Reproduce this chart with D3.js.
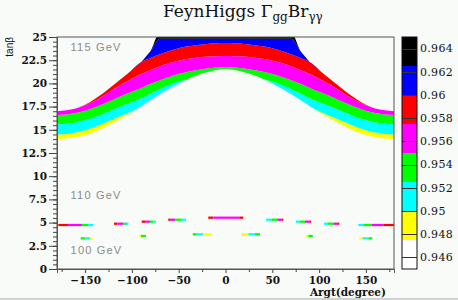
<!DOCTYPE html>
<html>
<head>
<meta charset="utf-8">
<script src="https://cdn.jsdelivr.net/npm/d3@7"></script>
<style>
	body { margin: 0; background: #f8fbf8; }
	svg { display: block; }
</style>
</head>
<body>
<script>
// Argt sample points (degrees) for the 115 GeV band
var argt = [-180, -170, -160, -150, -140, -130, -120, -110, -100, -90, -80, -70, -60, -50, -40, -30, -20, -10, 0,
	10, 20, 30, 40, 50, 60, 70, 80, 90, 100, 110, 120, 130, 140, 150, 160, 170, 180];

// upper tanb edge of each colour layer of the band
var bandBottom = [14.0, 14.05, 14.2, 14.45, 14.8, 15.25, 15.75, 16.3, 16.9, 17.55, 18.2, 18.85, 19.45, 20.0, 20.5, 20.9, 21.2, 21.45, 21.55,
	21.45, 21.2, 20.9, 20.5, 20.0, 19.45, 18.85, 18.2, 17.55, 16.9, 16.3, 15.75, 15.25, 14.8, 14.45, 14.2, 14.05, 14.0];
var yellowTop = [14.5, 14.55, 14.7, 14.95, 15.3, 15.7, 16.15, 16.55, 17.0, 17.55, 18.2, 18.85, 19.45, 20.0, 20.5, 20.9, 21.2, 21.45, 21.55,
	21.45, 21.2, 20.9, 20.5, 20.0, 19.45, 18.85, 18.2, 17.55, 17.0, 16.55, 16.15, 15.7, 15.3, 14.95, 14.7, 14.55, 14.5];
var cyanTop = [15.6, 15.65, 15.8, 16.05, 16.35, 16.75, 17.2, 17.6, 18.0, 18.4, 18.9, 19.4, 19.85, 20.2, 20.5, 20.9, 21.2, 21.45, 21.55,
	21.45, 21.2, 20.9, 20.5, 20.2, 19.85, 19.4, 18.9, 18.4, 18.0, 17.6, 17.2, 16.75, 16.35, 16.05, 15.8, 15.65, 15.6];
var greenTop = [16.6, 16.65, 16.8, 17.05, 17.4, 17.8, 18.25, 18.7, 19.1, 19.5, 19.95, 20.35, 20.7, 21.0, 21.25, 21.45, 21.6, 21.72, 21.77,
	21.72, 21.6, 21.45, 21.25, 21.0, 20.7, 20.35, 19.95, 19.5, 19.1, 18.7, 18.25, 17.8, 17.4, 17.05, 16.8, 16.65, 16.6];
var magentaTop = [17.0, 17.1, 17.3, 17.65, 18.1, 18.7, 19.35, 19.95, 20.5, 21.0, 21.45, 21.85, 22.2, 22.45, 22.65, 22.8, 22.9, 22.93, 22.95,
	22.93, 22.9, 22.8, 22.65, 22.45, 22.2, 21.85, 21.45, 21.0, 20.5, 19.95, 19.35, 18.7, 18.1, 17.65, 17.3, 17.1, 17.0];
var redTop = [17.0, 17.1, 17.3, 17.7, 18.3, 19.0, 19.8, 20.6, 21.45, 22.3, 22.75, 23.15, 23.5, 23.8, 24.0, 24.15, 24.25, 24.32, 24.35,
	24.32, 24.25, 24.15, 24.0, 23.8, 23.5, 23.15, 22.75, 22.3, 21.45, 20.6, 19.8, 19.0, 18.3, 17.7, 17.3, 17.1, 17.0];
var blueTop = [17.0, 17.1, 17.3, 17.7, 18.3, 19.0, 19.8, 20.6, 21.45, 22.3, 23.5, 24.8, 24.8, 24.8, 24.8, 24.8, 24.8, 24.8, 24.8,
	24.8, 24.8, 24.8, 24.8, 24.8, 24.8, 24.8, 23.5, 22.3, 21.45, 20.6, 19.8, 19.0, 18.3, 17.7, 17.3, 17.1, 17.0];
var blackTop = [17.0, 17.1, 17.3, 17.7, 18.3, 19.0, 19.8, 20.6, 21.45, 22.3, 23.5, 25.5, 25.5, 25.5, 25.5, 25.5, 25.5, 25.5, 25.5,
	25.5, 25.5, 25.5, 25.5, 25.5, 25.5, 25.5, 23.5, 22.3, 21.45, 20.6, 19.8, 19.0, 18.3, 17.7, 17.3, 17.1, 17.0];

// z value (Gamma_gg * Br_gamgam ratio) of each layer
var bandZ = [0.9487, 0.9512, 0.9537, 0.9562, 0.9587, 0.9612, 0.9637];

// short strips of the 110 GeV contour: tanb, Argt cell edges, z of each cell
var strips110 = [
	{ tanb: 4.74, edges: [-178.6, -168.3, -153.3, -146.9, -141.2], z: [0.9587, 0.9562, 0.9537, 0.9512] },
	{ tanb: 4.88, edges: [-119.1, -115.6, -109.2, -106.3, -103.8], z: [0.9587, 0.9562, 0.9537, 0.9512] },
	{ tanb: 5.1, edges: [-89.5, -86.0, -80.7, -77.1, -74.3], z: [0.9587, 0.9562, 0.9537, 0.9512] },
	{ tanb: 5.31, edges: [-61.1, -58.5, -54.0, -46.8, -42.2], z: [0.9587, 0.9562, 0.9537, 0.9512] },
	{ tanb: 5.53, edges: [-18.4, -13.0, 15.5, 19.0], z: [0.9587, 0.9562, 0.9587] },
	{ tanb: 5.31, edges: [43.3, 49.4, 55.3, 60.0, 61.8], z: [0.9512, 0.9537, 0.9562, 0.9587] },
	{ tanb: 5.1, edges: [75.3, 79.6, 84.9, 89.5, 91.3], z: [0.9512, 0.9537, 0.9562, 0.9587] },
	{ tanb: 4.88, edges: [105.2, 108.8, 115.2, 119.4, 121.6], z: [0.9512, 0.9537, 0.9562, 0.9587] },
	{ tanb: 4.74, edges: [141.9, 147.2, 156.2, 168.6, 180], z: [0.9512, 0.9537, 0.9562, 0.9587] }
];

// short strips of the 100 GeV contour
var strips100 = [
	{ tanb: 3.3, edges: [-154.7, -150.1, -144.8, -141.9], z: [0.9537, 0.9512, 0.9487] },
	{ tanb: 3.56, edges: [-92.1, -90.3, -84.9], z: [0.9487, 0.9537] },
	{ tanb: 3.74, edges: [-35.0, -30.8, -23.7, -14.7], z: [0.9537, 0.9512, 0.9487] },
	{ tanb: 3.74, edges: [16.6, 24.4, 31.5, 36.9], z: [0.9487, 0.9512, 0.9537] },
	{ tanb: 3.56, edges: [86.0, 88.5, 93.2], z: [0.9487, 0.9537] },
	{ tanb: 3.3, edges: [143.0, 146.6, 152.6, 156.8], z: [0.9487, 0.9512, 0.9537] }
];

// contour levels of the palette and their colours
var zLevels = [0.945, 0.9475, 0.95, 0.9525, 0.955, 0.9575, 0.96, 0.9625, 0.965];
var zColors = ["#ffffff", "#ffff00", "#00ffff", "#00ff00", "#ff00ff", "#ff0000", "#0000ff", "#000000"];

// tick labels
var xTicks = [-150, -100, -50, 0, 50, 100, 150];
var yTicks = [0, 2.5, 5, 7.5, 10, 12.5, 15, 17.5, 20, 22.5, 25];
var zTicks = [0.946, 0.948, 0.95, 0.952, 0.954, 0.956, 0.958, 0.96, 0.962, 0.964];

var width = 458, height = 300;
var frame = { left: 57, right: 394, top: 37, bottom: 269 };
var serif = "'DejaVu Serif', serif";

var svg = d3.select("body").append("svg")
	.attr("width", width)
	.attr("height", height);

svg.append("rect")
	.attr("width", width)
	.attr("height", height)
	.style("fill", "#f8fbf8");

// bottom grey border of the canvas
svg.append("rect")
	.attr("x", 0).attr("y", 298)
	.attr("width", width).attr("height", 2)
	.style("fill", "#cfd3cf");

var x = d3.scaleLinear().domain([-180, 180]).range([frame.left, frame.right]);
var y = d3.scaleLinear().domain([0, 25]).range([frame.bottom, frame.top]);
var colour = d3.scaleThreshold().domain(zLevels.slice(1, -1)).range(zColors);
var zScale = d3.scaleLinear().domain([0.945, 0.965]).range([frame.bottom, frame.top]);

svg.append("clipPath").attr("id", "plotClip")
	.append("rect")
	.attr("x", frame.left).attr("y", frame.top)
	.attr("width", frame.right - frame.left)
	.attr("height", frame.bottom - frame.top);

var plot = svg.append("g").attr("clip-path", "url(#plotClip)");

// 115 GeV band, one area per colour layer
var edges = [bandBottom, yellowTop, cyanTop, greenTop, magentaTop, redTop, blueTop, blackTop];
var layers = bandZ.map(function (z, i) {
	return argt.map(function (a, j) {
		return { a: a, lo: edges[i][j], hi: edges[i + 1][j], z: z };
	});
});

var area = d3.area()
	.x(function (d) { return x(d.a); })
	.y0(function (d) { return y(d.lo); })
	.y1(function (d) { return y(d.hi); })
	.curve(d3.curveMonotoneX);

plot.selectAll("path.band")
	.data(layers)
	.enter().append("path")
	.attr("class", "band")
	.attr("d", area)
	.style("fill", function (d) { return colour(d[0].z); })
	.style("stroke", "none");

// strips of the lower contours
var halfBin = 0.12;
var cells = [];
strips110.concat(strips100).forEach(function (s) {
	s.z.forEach(function (z, k) {
		cells.push({ a0: s.edges[k], a1: s.edges[k + 1], tanb: s.tanb, z: z });
	});
});

plot.selectAll("rect.cell")
	.data(cells)
	.enter().append("rect")
	.attr("class", "cell")
	.attr("x", function (d) { return x(d.a0); })
	.attr("width", function (d) { return x(d.a1) - x(d.a0); })
	.attr("y", function (d) { return y(d.tanb + halfBin); })
	.attr("height", function (d) { return y(d.tanb - halfBin) - y(d.tanb + halfBin); })
	.style("fill", function (d) { return colour(d.z); });

// mass labels
var massLabels = [
	{ text: "115 GeV", a: -165.5, tanb: 23.5 },
	{ text: "110 GeV", a: -165.5, tanb: 7.55 },
	{ text: "100 GeV", a: -165.5, tanb: 1.6 }
];
svg.selectAll("text.mass")
	.data(massLabels)
	.enter().append("text")
	.attr("class", "mass")
	.attr("x", function (d) { return x(d.a); })
	.attr("y", function (d) { return y(d.tanb); })
	.text(function (d) { return d.text; })
	.style("font-family", "'Liberation Sans', sans-serif")
	.style("font-size", "11px")
	.style("letter-spacing", "1.2px")
	.style("fill", "#8a8a8a");

// frame
svg.append("rect")
	.attr("x", frame.left).attr("y", frame.top)
	.attr("width", frame.right - frame.left)
	.attr("height", frame.bottom - frame.top)
	.style("fill", "none")
	.style("stroke", "#555")
	.style("stroke-width", 1);

// y axis
var yAxis = svg.append("g")
	.attr("transform", "translate(" + frame.left + ",0)")
	.call(d3.axisLeft(y).tickValues(yTicks).tickSize(8).tickPadding(2)
		.tickFormat(function (d) { return String(d); }));
svg.append("g")
	.attr("transform", "translate(" + frame.left + ",0)")
	.call(d3.axisLeft(y).tickValues(d3.range(0, 25.01, 0.5)).tickSize(4).tickFormat(""))
	.select(".domain").remove();

// x axis
var xAxis = svg.append("g")
	.attr("transform", "translate(0," + frame.bottom + ")")
	.call(d3.axisBottom(x).tickValues(xTicks).tickSize(4).tickPadding(4));
svg.append("g")
	.attr("transform", "translate(0," + frame.bottom + ")")
	.call(d3.axisBottom(x).tickValues([-175, -125, -75, -25, 25, 75, 125, 175]).tickSize(3).tickFormat(""))
	.select(".domain").remove();

svg.selectAll(".tick line").style("stroke", "#444");
svg.selectAll(".domain").style("stroke", "#555");
[yAxis, xAxis].forEach(function (g) {
	g.selectAll("text")
		.style("font-family", serif)
		.style("font-weight", "bold")
		.style("font-size", "10.5px")
		.style("fill", "#111");
});

// axis titles
svg.append("text")
	.attr("x", 386).attr("y", 296)
	.attr("text-anchor", "end")
	.text("Argt(degree)")
	.style("font-family", serif)
	.style("font-weight", "bold")
	.style("font-size", "10.5px")
	.style("fill", "#111");

svg.append("text")
	.attr("transform", "translate(13," + frame.top + ") rotate(-90)")
	.attr("text-anchor", "end")
	.text("tanβ")
	.style("font-family", "'Liberation Sans', sans-serif")
	.style("font-size", "10px")
	.style("fill", "#111");

// title
var title = svg.append("text")
	.attr("x", 163).attr("y", 17)
	.style("font-family", serif)
	.style("font-size", "17px")
	.style("fill", "#111");
title.append("tspan").text("FeynHiggs Γ");
title.append("tspan").attr("dy", 4).style("font-size", "12px").text("gg");
title.append("tspan").attr("dy", -4).text("Br");
title.append("tspan").attr("dy", 4).style("font-size", "12px").text("γγ");

// colour palette
var bar = { x: 402, w: 15 };
var boxes = zColors.map(function (c, i) { return { lo: zLevels[i], hi: zLevels[i + 1], c: c }; });
svg.selectAll("rect.pal")
	.data(boxes)
	.enter().append("rect")
	.attr("class", "pal")
	.attr("x", bar.x)
	.attr("width", bar.w)
	.attr("y", function (d) { return zScale(d.hi); })
	.attr("height", function (d) { return zScale(d.lo) - zScale(d.hi); })
	.style("fill", function (d) { return d.c; });

svg.selectAll("line.ptick")
	.data(zTicks)
	.enter().append("line")
	.attr("class", "ptick")
	.attr("x1", bar.x).attr("x2", bar.x + bar.w)
	.attr("y1", function (d) { return Math.round(zScale(d)) + 0.5; })
	.attr("y2", function (d) { return Math.round(zScale(d)) + 0.5; })
	.style("stroke", "#333");

svg.append("rect")
	.attr("x", bar.x).attr("y", frame.top)
	.attr("width", bar.w).attr("height", frame.bottom - frame.top)
	.style("fill", "none")
	.style("stroke", "#111");

svg.selectAll("text.plab")
	.data(zTicks)
	.enter().append("text")
	.attr("class", "plab")
	.attr("x", 420)
	.attr("y", function (d) { return zScale(d); })
	.attr("dy", "0.35em")
	.text(function (d) { return String(+d.toFixed(3)); })
	.style("font-family", serif)
	.style("font-size", "11px")
	.style("letter-spacing", "0.3px")
	.style("fill", "#111");
</script>
</body>
</html>
